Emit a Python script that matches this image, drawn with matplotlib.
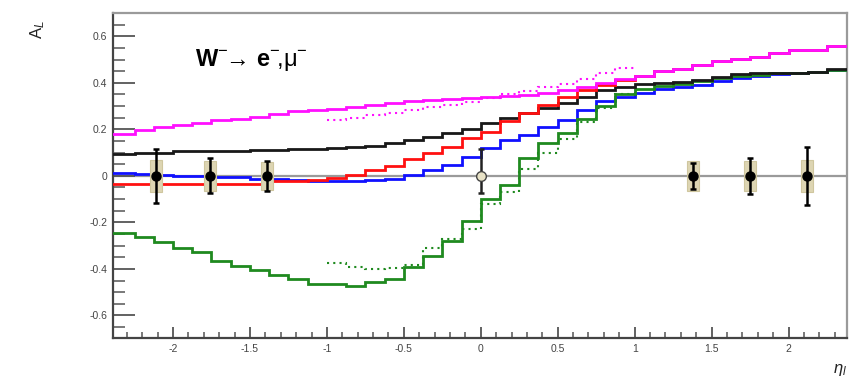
import numpy as np
import matplotlib
matplotlib.use("Agg")
import matplotlib.pyplot as plt
from matplotlib.patches import Rectangle

plt.rcParams['font.family'] = ['Liberation Sans', 'DejaVu Sans']
plt.rcParams['axes.unicode_minus'] = False
plt.rcParams['mathtext.fontset'] = 'custom'
plt.rcParams['mathtext.rm'] = 'Liberation Sans'
plt.rcParams['mathtext.it'] = 'Liberation Sans:italic'
plt.rcParams['mathtext.bf'] = 'Liberation Sans:bold'

# ---- data ----
bin_edges = [-2.5 + 0.125 * k for k in range(41)]

magenta_vals = [0.181, 0.181, 0.195, 0.212, 0.219, 0.229, 0.238, 0.244, 0.255, 0.267,
                0.277, 0.282, 0.287, 0.295, 0.305, 0.312, 0.320, 0.324, 0.330, 0.334,
                0.338, 0.343, 0.348, 0.358, 0.370, 0.384, 0.398, 0.416, 0.430, 0.449,
                0.459, 0.477, 0.492, 0.502, 0.513, 0.530, 0.539, 0.542, 0.559, 0.559]
red_vals = [-0.035, -0.035, -0.035, -0.035, -0.035, -0.035, -0.035, -0.035, -0.033, -0.024,
            -0.020, -0.017, -0.010, 0.004, 0.023, 0.043, 0.072, 0.098, 0.126, 0.162,
            0.190, 0.234, 0.270, 0.305, 0.341, 0.370, 0.391, 0.413, 0.430, 0.449,
            0.459, 0.477, 0.492, 0.502, 0.513, 0.530, 0.539, 0.542, 0.559, 0.559]
blue_vals = [0.014, 0.014, 0.007, 0.004, 0.001, 0.000, -0.003, -0.006, -0.012, -0.014,
             -0.016, -0.020, -0.024, -0.024, -0.018, -0.012, 0.004, 0.026, 0.047, 0.080,
             0.119, 0.155, 0.176, 0.212, 0.241, 0.281, 0.320, 0.341, 0.356, 0.372,
             0.381, 0.391, 0.406, 0.420, 0.430, 0.437, 0.444, 0.447, 0.455, 0.455]
black_vals = [0.093, 0.093, 0.097, 0.097, 0.105, 0.105, 0.105, 0.105, 0.112, 0.112,
              0.115, 0.117, 0.119, 0.122, 0.129, 0.140, 0.152, 0.169, 0.186, 0.200,
              0.229, 0.248, 0.270, 0.290, 0.314, 0.341, 0.370, 0.384, 0.396, 0.400,
              0.402, 0.413, 0.427, 0.437, 0.440, 0.442, 0.444, 0.446, 0.459, 0.459]
green_vals = [-0.246, -0.246, -0.264, -0.285, -0.312, -0.329, -0.366, -0.387, -0.404, -0.428,
              -0.445, -0.465, -0.465, -0.472, -0.455, -0.445, -0.390, -0.344, -0.280, -0.196,
              -0.100, -0.040, 0.076, 0.141, 0.184, 0.245, 0.300, 0.350, 0.372, 0.385,
              0.396, 0.408, 0.420, 0.428, 0.435, 0.440, 0.444, 0.447, 0.456, 0.456]

# dotted curves, restricted range bins from -1.0 to 1.0
dotted_edges = [-1.0 + 0.125 * k for k in range(17)]
magenta_dot_vals = [0.240, 0.250, 0.262, 0.272, 0.284, 0.295, 0.305, 0.318,
                    0.335, 0.350, 0.365, 0.380, 0.395, 0.415, 0.440, 0.465]
green_dot_vals = [-0.375, -0.390, -0.400, -0.398, -0.385, -0.310, -0.270, -0.230,
                  -0.120, -0.070, 0.030, 0.100, 0.160, 0.230, 0.290, 0.350]

# data points
pt_x = [-2.11, -1.76, -1.39, 1.38, 1.75, 2.12]
pt_y = [0.0, 0.0, 0.0, 0.0, 0.0, 0.0]
pt_err = [0.115, 0.075, 0.065, 0.055, 0.078, 0.125]
pt_sys = [0.070, 0.065, 0.060, 0.065, 0.065, 0.070]
open_x = [0.0]
open_y = [0.0]
open_err_lo = [0.075]
open_err_hi = [0.115]

ytick_vals = [-0.6, -0.4, -0.2, 0.0, 0.2, 0.4, 0.6]
ytick_labels = ["-0.6", "-0.4", "-0.2", "0", "0.2", "0.4", "0.6"]
xtick_vals = [-2, -1.5, -1, -0.5, 0, 0.5, 1, 1.5, 2]
xtick_labels = ["-2", "-1.5", "-1", "-0.5", "0", "0.5", "1", "1.5", "2"]

# ---- figure ----
W, H = 858, 385
fig = plt.figure(figsize=(W / 100, H / 100), dpi=100)
L, R, T, B = 113, 847, 13, 338
ax = fig.add_axes([L / W, 1 - B / H, (R - L) / W, (B - T) / H])
ax.set_xlim(-2.39, 2.38)
ax.set_ylim(-0.697, 0.70)

ax.axhline(0, color='#9a9a9a', lw=1.6, zorder=1)

lw = 2.0
ax.stairs(blue_vals, bin_edges, baseline=None, color='#1010ff', lw=lw, zorder=3)
ax.stairs(green_vals, bin_edges, baseline=None, color='#1f8a1f', lw=lw, zorder=3)
ax.stairs(black_vals, bin_edges, baseline=None, color='#181818', lw=lw, zorder=3)
ax.stairs(red_vals, bin_edges, baseline=None, color='#ff1010', lw=lw, zorder=3)
ax.stairs(magenta_vals, bin_edges, baseline=None, color='#ff10ff', lw=lw, zorder=3)

ax.stairs(magenta_dot_vals, dotted_edges, baseline=None, color='#ff10ff', lw=1.5,
          ls=(0, (1, 2.0)), zorder=3)
ax.stairs(green_dot_vals, dotted_edges, baseline=None, color='#1f8a1f', lw=1.5,
          ls=(0, (1, 2.0)), zorder=3)

# systematic boxes
bw = 0.04
for x, y, s in zip(pt_x, pt_y, pt_sys):
    ax.add_patch(Rectangle((x - bw, y - s), 2 * bw, 2 * s, facecolor='#ddd5b3',
                           edgecolor='#cfc69e', lw=0.8, zorder=4))
ax.errorbar(pt_x, pt_y, yerr=pt_err, fmt='o', color='black', ms=6.5, elinewidth=1.8,
            capsize=2, capthick=1.8, zorder=5)
ax.errorbar(open_x, open_y, yerr=[open_err_lo, open_err_hi], fmt='o', color='#222222',
            mfc='#e8e2c6', mec='#444444', ms=7, elinewidth=1.8, capsize=2, capthick=1.8,
            zorder=5)

# ticks
ax.set_yticks(ytick_vals)
ax.set_yticklabels(ytick_labels)
ax.set_xticks(xtick_vals)
ax.set_xticklabels(xtick_labels)
ax.set_yticks(np.arange(-0.65, 0.7, 0.05), minor=True)
ax.set_xticks(np.arange(-2.3, 2.35, 0.1), minor=True)
ax.tick_params(axis='y', which='major', direction='in', length=15.5, width=1.3,
               color='#555555', labelsize=7.5, labelcolor='#444444', pad=4,
               right=False)
ax.tick_params(axis='y', which='minor', direction='in', length=8.5, width=1.1,
               color='#555555', right=False)
ax.tick_params(axis='x', which='major', direction='in', length=8, width=1.3,
               color='#555555', labelsize=7.5, labelcolor='#444444', pad=4,
               top=False)
ax.tick_params(axis='x', which='minor', direction='in', length=4.3, width=1.1,
               color='#555555', top=False)

for side in ['left', 'bottom']:
    ax.spines[side].set_color('#444444')
    ax.spines[side].set_linewidth(1.6)
for side in ['top', 'right']:
    ax.spines[side].set_color('#9a9a9a')
    ax.spines[side].set_linewidth(1.6)

ax.text((195 - L) / (R - L), (B - 60) / (B - T),
        r"$\mathbf{W}^{-}\!\!\rightarrow\, \mathbf{e}^{-}\!{,}\mathrm{\mu}^{-}$",
        transform=ax.transAxes, ha='left', va='center', fontsize=17, color='black')

fig.text(38 / W, 1 - 30 / H, r"$\mathrm{A}_{L}$", rotation=90, ha='center', va='center',
         fontsize=12, color='#222222')
fig.text(840 / W, 1 - 370 / H, r"$\eta_{l}$", ha='center', va='center',
         fontsize=12, color='#222222')

fig.savefig("out.png", dpi=100)
